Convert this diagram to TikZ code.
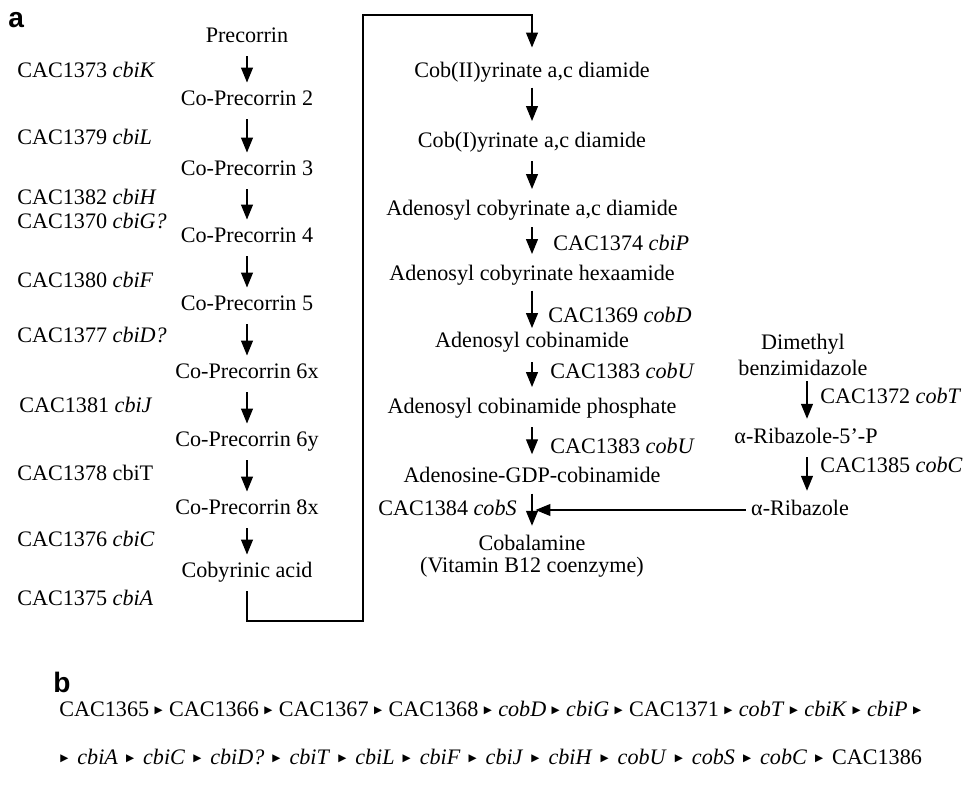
\documentclass[tikz,border=0pt]{standalone}
\usepackage{fontspec}
\setmainfont{Liberation Serif}
\newfontfamily\panelfont{Liberation Sans}
\newfontfamily\symfont{DejaVu Sans}
\usetikzlibrary{arrows.meta,positioning}

\newcommand{\bodyfont}{\fontsize{12.6}{13.6}\selectfont}
\newcommand{\tri}{\raisebox{1.6pt}{\symfont\fontsize{6}{6}\selectfont ▶}}
\newcommand{\nxt}{\hskip 1.5pt plus 3pt\tri\hskip 2pt plus 3pt}

\begin{document}
\begin{tikzpicture}[x=0.02cm, y=-0.02cm,
  cmpd/.style={inner sep=0pt, text height=9pt, text depth=2.5pt, font=\bodyfont},
  twoline/.style={inner sep=0pt, align=center, font=\bodyfont},
  gene/.style={anchor=west, inner sep=0pt, text height=9pt, text depth=2.5pt, font=\bodyfont},
  panel/.style={anchor=base west, inner sep=0pt, font=\panelfont\bfseries\fontsize{16}{16}\selectfont},
  arr/.style={-{Triangle[width=6.8pt,length=8.5pt]}, line width=0.7pt, shorten <=5pt, shorten >=4pt}
]
\useasboundingbox (0,0) rectangle (974,790);

\node[panel] (pa) at (8,28) {a};
\node[panel] (pb) at (53,692) {b};

% corrin ring pathway
\node[cmpd] (pre)  at (247,37)  {Precorrin};
\node[cmpd] (cp2)  at (247,100) {Co-Precorrin 2};
\node[cmpd] (cp3)  at (247,170) {Co-Precorrin 3};
\node[cmpd] (cp4)  at (247,237) {Co-Precorrin 4};
\node[cmpd] (cp5)  at (247,305) {Co-Precorrin 5};
\node[cmpd] (cp6x) at (247,373) {Co-Precorrin 6x};
\node[cmpd] (cp6y) at (247,441) {Co-Precorrin 6y};
\node[cmpd] (cp8x) at (247,509) {Co-Precorrin 8x};
\node[cmpd] (acid) at (247,572) {Cobyrinic acid};

\foreach \a/\b in {pre/cp2, cp2/cp3, cp3/cp4, cp4/cp5, cp5/cp6x, cp6x/cp6y, cp6y/cp8x, cp8x/acid}
  \draw[arr] (\a.south) -- (\b.north);

\node[gene] (gk) at (17,72)  {CAC1373 \textit{cbiK}};
\node[gene] (gl) at (17,139) {CAC1379 \textit{cbiL}};
\node[twoline, anchor=west, align=left] (ghg) at (17,209) {CAC1382 \textit{cbiH}\\CAC1370 \textit{cbiG?}};
\node[gene] (gf) at (17,282) {CAC1380 \textit{cbiF}};
\node[gene] (gd) at (17,337) {CAC1377 \textit{cbiD?}};
\node[gene] (gj) at (19,407) {CAC1381 \textit{cbiJ}};
\node[gene] (gt) at (17,475) {CAC1378 cbiT};
\node[gene] (gc) at (17,541) {CAC1376 \textit{cbiC}};
\node[gene] (ga) at (17,600) {CAC1375 \textit{cbiA}};

% amidation and adenosylation
\node[cmpd] (cob2) at (532,72)  {Cob(II)yrinate a,c diamide};
\node[cmpd] (cob1) at (532,142) {Cob(I)yrinate a,c diamide};
\node[cmpd] (adoa) at (532,210) {Adenosyl cobyrinate a,c diamide};
\node[cmpd] (hexa) at (532,275) {Adenosyl cobyrinate hexaamide};
\node[cmpd] (cbi)  at (532,342) {Adenosyl cobinamide};
\node[cmpd] (cbip) at (532,408) {Adenosyl cobinamide phosphate};
\node[cmpd] (gdp)  at (532,477) {Adenosine-GDP-cobinamide};
\node[twoline, font=\fontsize{12.6}{12.6}\selectfont] (cbl) at (532,556) {Cobalamine\\(Vitamin B12 coenzyme)};

\coordinate (lowturn) at (363,621);
\coordinate (highturn) at (363,15);
\draw[arr, shorten >=8pt] (acid.south) |- (lowturn) -- (highturn) -| (cob2.north);

\draw[arr, shorten <=3pt, shorten >=6pt] (cob2.south) -- (cob1.north);
\draw[arr, shorten <=5pt, shorten >=6pt] (cob1.south) -- (adoa.north);
\draw[arr, shorten <=4pt, shorten >=6pt] (adoa.south) -- (hexa.north);
\draw[arr, shorten <=3pt, shorten >=2pt] (hexa.south) -- (cbi.north);
\draw[arr, shorten <=5.5pt, shorten >=6pt] (cbi.south) -- (cbip.north);
\draw[arr, shorten <=5pt, shorten >=7pt] (cbip.south) -- (gdp.north);
\draw[arr, shorten <=3.5pt, shorten >=5pt] (gdp.south) -- (cbl.north);

\node[gene] (gp)  at (553,245) {CAC1374 \textit{cbiP}};
\node[gene] (gcd) at (548,317) {CAC1369 \textit{cobD}};
\node[gene] (gu1) at (550,373) {CAC1383 \textit{cobU}};
\node[gene] (gu2) at (550,448) {CAC1383 \textit{cobU}};
\node[gene, anchor=east] (gs) at (517,510) {CAC1384 \textit{cobS}};

% lower ligand
\node[twoline] (dmb) at (803,355) {Dimethyl\\[0.8pt]benzimidazole};
\node[cmpd] (r5p) at (806,438) {α-Ribazole-5’-P};
\node[cmpd] (rib) at (800,510) {α-Ribazole};
\coordinate (ligx) at (807,0);

\draw[arr, shorten <=3pt, shorten >=5pt] (dmb.south -| ligx) -- (r5p.north -| ligx);
\draw[arr, shorten <=5pt, shorten >=5pt] (r5p.south -| ligx) -- (rib.north -| ligx);
\draw[arr, shorten <=3pt, shorten >=2pt] (rib.west) -- (rib.west -| cbl.north);

\node[gene] (gct) at (820,398) {CAC1372 \textit{cobT}};
\node[gene] (gcc) at (820,467) {CAC1385 \textit{cobC}};

% gene order in the cluster
\node[anchor=base west, inner sep=0pt, font=\bodyfont] (rowa) at (59,716) {\hbox to 490.6pt{CAC1365\nxt CAC1366\nxt CAC1367\nxt CAC1368\nxt\textit{cobD}\nxt\textit{cbiG}\nxt CAC1371\nxt\textit{cobT}\nxt\textit{cbiK}\nxt\textit{cbiP}\hskip 1.5pt plus 3pt\tri}};
\node[anchor=base west, inner sep=0pt, font=\bodyfont] (rowb) at (60,764) {\hbox to 490.4pt{\tri\hskip 2pt plus 3pt\textit{cbiA}\nxt\textit{cbiC}\nxt\textit{cbiD?}\nxt\textit{cbiT}\nxt\textit{cbiL}\nxt\textit{cbiF}\nxt\textit{cbiJ}\nxt\textit{cbiH}\nxt\textit{cobU}\nxt\textit{cobS}\nxt\textit{cobC}\nxt CAC1386}};
\end{tikzpicture}
\end{document}
